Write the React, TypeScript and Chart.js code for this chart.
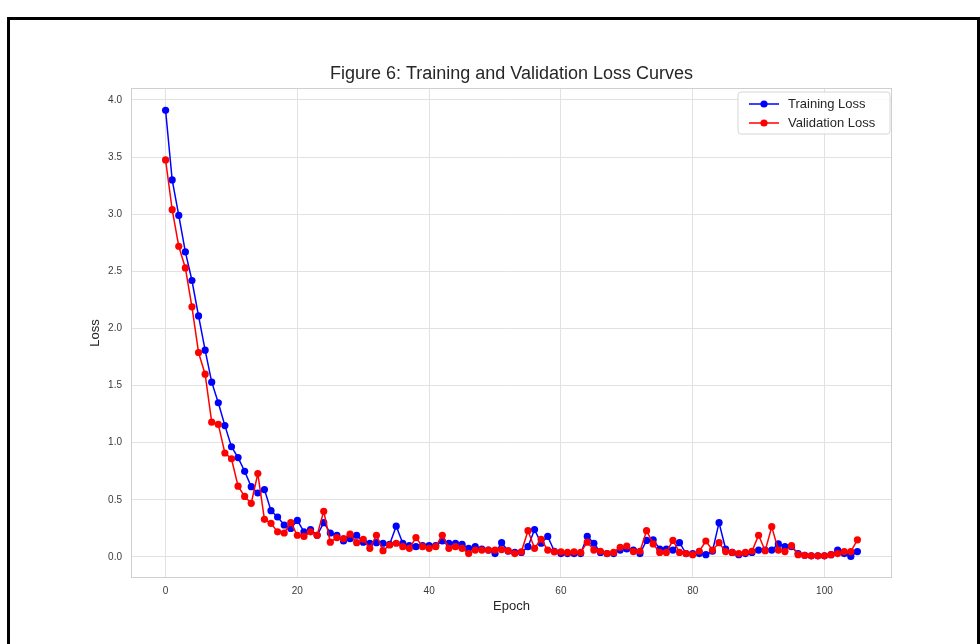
import React, { useEffect, useRef } from 'react';
import { Chart, registerables } from 'chart.js';

Chart.register(...registerables);

const TITLE = 'Figure 6: Training and Validation Loss Curves';
const X_LABEL = 'Epoch';
const Y_LABEL = 'Loss';
const SERIES_NAMES = ['Training Loss', 'Validation Loss'];

const trainingLoss = [
  3.91, 3.30, 2.99, 2.67, 2.42, 2.11, 1.81, 1.53, 1.35, 1.15,
  0.965, 0.87, 0.75, 0.615, 0.56, 0.59, 0.405, 0.35, 0.28, 0.25,
  0.32, 0.22, 0.24, 0.19, 0.30, 0.21, 0.19, 0.14, 0.16, 0.19,
  0.13, 0.12, 0.125, 0.12, 0.11, 0.27, 0.12, 0.10, 0.09, 0.10,
  0.10, 0.10, 0.14, 0.12, 0.12, 0.11, 0.076, 0.09, 0.07, 0.06,
  0.03, 0.125, 0.05, 0.04, 0.04, 0.09, 0.24, 0.12, 0.18, 0.05,
  0.03, 0.03, 0.03, 0.03, 0.18, 0.12, 0.04, 0.03, 0.03, 0.06,
  0.07, 0.06, 0.03, 0.145, 0.15, 0.07, 0.07, 0.06, 0.125, 0.03,
  0.03, 0.03, 0.02, 0.05, 0.30, 0.07, 0.04, 0.02, 0.03, 0.04,
  0.06, 0.06, 0.06, 0.114, 0.09, 0.09, 0.03, 0.015, 0.01, 0.01,
  0.01, 0.02, 0.06, 0.03, 0.005, 0.047,
];

const validationLoss = [
  3.475, 3.04, 2.72, 2.53, 2.19, 1.79, 1.60, 1.18, 1.16, 0.91,
  0.86, 0.62, 0.53, 0.47, 0.73, 0.33, 0.295, 0.22, 0.21, 0.30,
  0.19, 0.18, 0.22, 0.19, 0.40, 0.13, 0.17, 0.16, 0.20, 0.125,
  0.155, 0.076, 0.19, 0.055, 0.105, 0.12, 0.09, 0.076, 0.17, 0.09,
  0.076, 0.09, 0.19, 0.076, 0.09, 0.076, 0.03, 0.06, 0.06, 0.06,
  0.06, 0.065, 0.055, 0.03, 0.045, 0.23, 0.076, 0.155, 0.06, 0.045,
  0.045, 0.04, 0.045, 0.04, 0.13, 0.06, 0.05, 0.03, 0.04, 0.085,
  0.096, 0.047, 0.05, 0.23, 0.114, 0.04, 0.04, 0.145, 0.04, 0.03,
  0.02, 0.05, 0.14, 0.06, 0.125, 0.047, 0.04, 0.03, 0.04, 0.05,
  0.19, 0.055, 0.265, 0.06, 0.047, 0.10, 0.02, 0.015, 0.01, 0.01,
  0.01, 0.02, 0.03, 0.047, 0.047, 0.15,
];

const X_MIN = -5.25;
const X_MAX = 110.25;
const Y_MIN = -0.184;
const Y_MAX = 4.105;

const FONT = '"Liberation Sans", Arial, Helvetica, sans-serif';
const TEXT = '#262626';
const TICK_TEXT = '#3a3a3a';
const GRID = '#e2e2e2';
const EDGE = '#cfcfcf';
const COLORS = ['#0000ff', '#ff0000'];

const toPoints = (vals: number[]) => vals.map((v, i) => ({ x: i, y: v }));

const decorPlugin = {
  id: 'decor',
  afterDraw(chart: any) {
    const { ctx, chartArea: a } = chart;
    ctx.save();
    // spines
    ctx.strokeStyle = EDGE;
    ctx.lineWidth = 1;
    ctx.strokeRect(a.left + 0.5, a.top + 0.5, a.right - a.left - 1, a.bottom - a.top - 1);
    // title
    ctx.fillStyle = TEXT;
    ctx.font = `18px ${FONT}`;
    ctx.textAlign = 'center';
    ctx.textBaseline = 'middle';
    ctx.fillText(TITLE, (a.left + a.right) / 2, 74);
    // legend
    const bx = 738, by = 92, bw = 152, bh = 42, r = 3;
    ctx.beginPath();
    ctx.moveTo(bx + r, by);
    ctx.lineTo(bx + bw - r, by);
    ctx.quadraticCurveTo(bx + bw, by, bx + bw, by + r);
    ctx.lineTo(bx + bw, by + bh - r);
    ctx.quadraticCurveTo(bx + bw, by + bh, bx + bw - r, by + bh);
    ctx.lineTo(bx + r, by + bh);
    ctx.quadraticCurveTo(bx, by + bh, bx, by + bh - r);
    ctx.lineTo(bx, by + r);
    ctx.quadraticCurveTo(bx, by, bx + r, by);
    ctx.closePath();
    ctx.fillStyle = 'rgba(255,255,255,0.85)';
    ctx.fill();
    ctx.strokeStyle = '#d6d6d6';
    ctx.stroke();
    SERIES_NAMES.forEach((name, i) => {
      const y = 104 + i * 19;
      ctx.strokeStyle = COLORS[i];
      ctx.lineWidth = 1.5;
      ctx.beginPath();
      ctx.moveTo(749, y);
      ctx.lineTo(779, y);
      ctx.stroke();
      ctx.fillStyle = COLORS[i];
      ctx.beginPath();
      ctx.arc(764, y, 3.6, 0, Math.PI * 2);
      ctx.fill();
      ctx.fillStyle = TEXT;
      ctx.font = `13px ${FONT}`;
      ctx.textAlign = 'left';
      ctx.textBaseline = 'middle';
      ctx.fillText(name, 788, y);
    });
    ctx.restore();
  },
};

export default function App() {
  const ref = useRef<HTMLCanvasElement>(null);

  useEffect(() => {
    if (!ref.current) return;
    const chart = new Chart(ref.current, {
      type: 'line',
      data: {
        datasets: [
          {
            label: SERIES_NAMES[0],
            data: toPoints(trainingLoss),
            borderColor: COLORS[0],
            backgroundColor: COLORS[0],
            pointBackgroundColor: COLORS[0],
            pointBorderColor: COLORS[0],
            borderWidth: 1.5,
            pointRadius: 3.6,
            pointBorderWidth: 0,
            tension: 0,
            order: 1,
          },
          {
            label: SERIES_NAMES[1],
            data: toPoints(validationLoss),
            borderColor: COLORS[1],
            backgroundColor: COLORS[1],
            pointBackgroundColor: COLORS[1],
            pointBorderColor: COLORS[1],
            borderWidth: 1.5,
            pointRadius: 3.6,
            pointBorderWidth: 0,
            tension: 0,
            order: 0,
          },
        ],
      },
      options: {
        responsive: false,
        animation: false,
        devicePixelRatio: 1,
        layout: { padding: { left: 0, right: 88, top: 88, bottom: 0 } },
        plugins: {
          legend: { display: false },
          title: { display: false },
          tooltip: { enabled: false },
        },
        scales: {
          x: {
            type: 'linear',
            min: X_MIN,
            max: X_MAX,
            afterFit: (s: any) => { s.height = 66; },
            ticks: {
              stepSize: 20,
              includeBounds: false,
              padding: 7,
              maxRotation: 0,
              color: TICK_TEXT,
              font: { family: FONT, size: 10 },
            },
            grid: { color: GRID, drawTicks: false },
            border: { display: false },
            title: {
              display: true,
              text: X_LABEL,
              color: TEXT,
              font: { family: FONT, size: 13 },
              padding: { top: 0, bottom: 30 },
            },
          },
          y: {
            type: 'linear',
            min: Y_MIN,
            max: Y_MAX,
            afterFit: (s: any) => { s.width = 131; },
            ticks: {
              stepSize: 0.5,
              includeBounds: false,
              padding: 9,
              color: TICK_TEXT,
              font: { family: FONT, size: 10 },
              callback: (v: any) => Number(v).toFixed(1),
            },
            grid: { color: GRID, drawTicks: false },
            border: { display: false },
            title: {
              display: true,
              text: Y_LABEL,
              color: TEXT,
              font: { family: FONT, size: 13 },
              padding: { top: 88, bottom: 0 },
            },
          },
        },
      } as any,
      plugins: [decorPlugin],
    });
    return () => chart.destroy();
  }, []);

  return (
    <div>
      <div
        style={{
          position: 'absolute',
          left: 7,
          top: 17,
          width: 973,
          height: 700,
          boxSizing: 'border-box',
          border: '3px solid #000',
          background: '#fff',
        }}
      />
      <canvas
        ref={ref}
        width={980}
        height={644}
        style={{ position: 'absolute', left: 0, top: 0, width: 980, height: 644 }}
      />
    </div>
  );
}
